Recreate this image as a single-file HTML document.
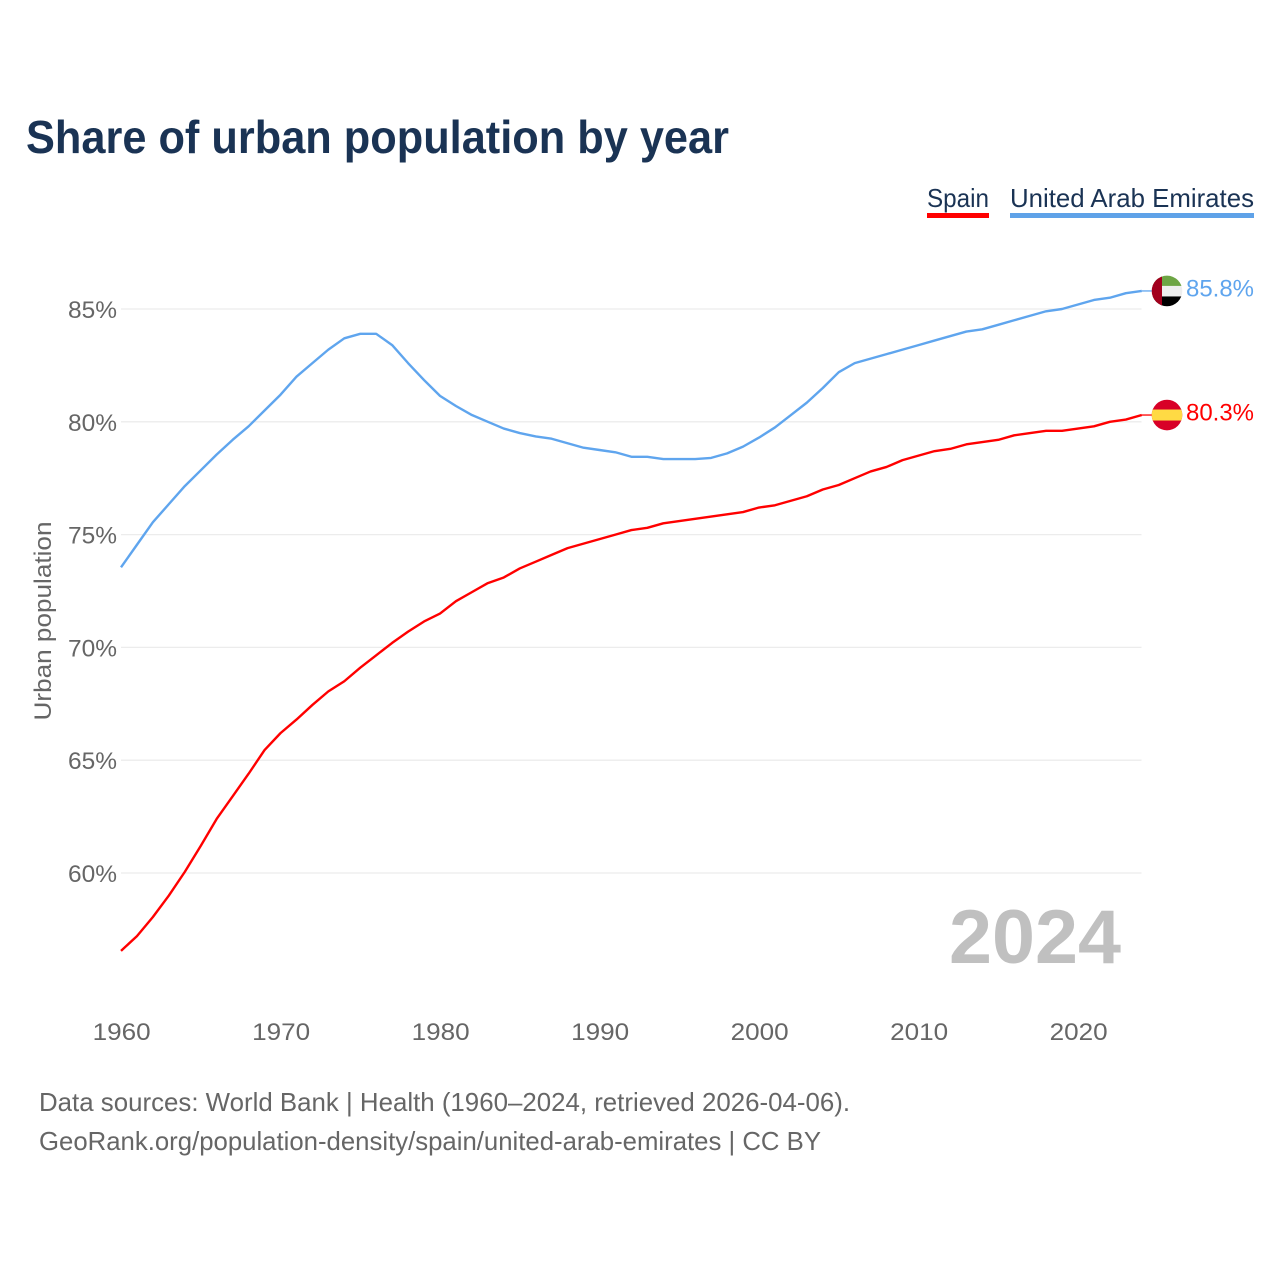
<!DOCTYPE html>
<html lang="en">
<head>
<meta charset="utf-8">
<title>Share of urban population by year</title>
<style>
html,body{margin:0;padding:0;background:#fff;width:1280px;height:1280px;overflow:hidden}
svg{display:block}
text{font-family:"Liberation Sans",sans-serif}
</style>
</head>
<body>
<svg id="chart" width="1280" height="1280" viewBox="0 0 1280 1280" xmlns="http://www.w3.org/2000/svg">
  <rect width="1280" height="1280" fill="#fff"/>
  <text x="26" y="153" font-size="46" font-weight="700" fill="#1a3354" textLength="703" lengthAdjust="spacingAndGlyphs">Share of urban population by year</text>

  <g>
    <text x="927" y="207" font-size="26" fill="#1a3354" textLength="62" lengthAdjust="spacingAndGlyphs">Spain</text>
    <rect x="927" y="213" width="62" height="5" fill="#ff0000"/>
  </g>
  <g>
    <text x="1010" y="207" font-size="26" fill="#1a3354" textLength="244" lengthAdjust="spacingAndGlyphs">United Arab Emirates</text>
    <rect x="1010" y="213" width="244" height="5" fill="#5fa2e8"/>
  </g>

  <text transform="translate(51,720.5) rotate(-90)" font-size="24" fill="#666" textLength="199" lengthAdjust="spacingAndGlyphs">Urban population</text>

  <g id="grid"></g>
  <g id="yticks"></g>
  <g id="xticks"></g>

  <text x="949" y="963" font-size="76" font-weight="700" fill="#c0c0c0" textLength="172" lengthAdjust="spacingAndGlyphs">2024</text>

  <g id="series"></g>

  <defs>
    <clipPath id="flag-clip"><circle cx="0" cy="0" r="15.3"/></clipPath>
  </defs>
  <g id="flag-uae" clip-path="url(#flag-clip)">
    <rect x="-16" y="-16" width="32" height="11" fill="#6da544"/>
    <rect x="-16" y="-5" width="32" height="10.5" fill="#eeeeee"/>
    <rect x="-16" y="5.5" width="32" height="11" fill="#000000"/>
    <rect x="-16" y="-16" width="11" height="32" fill="#a2001d"/>
  </g>
  <g id="flag-spain" clip-path="url(#flag-clip)">
    <rect x="-16" y="-16" width="32" height="32" fill="#d80027"/>
    <rect x="-16" y="-5.5" width="32" height="11" fill="#ffda44"/>
  </g>
  <g id="end-labels"></g>

  <text x="39" y="1111" font-size="26" fill="#666" textLength="811" lengthAdjust="spacingAndGlyphs">Data sources: World Bank | Health (1960–2024, retrieved 2026-04-06).</text>
  <text x="39" y="1150" font-size="26" fill="#666" textLength="782" lengthAdjust="spacingAndGlyphs">GeoRank.org/population-density/spain/united-arab-emirates | CC BY</text>
</svg>
<script>
const startYear = 1960;
const yTickValues = [60, 65, 70, 75, 80, 85];
const xTickValues = [1960, 1970, 1980, 1990, 2000, 2010, 2020];
const spainValues = [
  56.55, 57.2, 58.05, 59.0, 60.05, 61.2, 62.4, 63.4, 64.4, 65.45,
  66.2, 66.8, 67.45, 68.05, 68.5, 69.1, 69.65, 70.2, 70.7, 71.15,
  71.5, 72.05, 72.45, 72.85, 73.1, 73.5, 73.8, 74.1, 74.4, 74.6,
  74.8, 75.0, 75.2, 75.3, 75.5, 75.6, 75.7, 75.8, 75.9, 76.0,
  76.2, 76.3, 76.5, 76.7, 77.0, 77.2, 77.5, 77.8, 78.0, 78.3,
  78.5, 78.7, 78.8, 79.0, 79.1, 79.2, 79.4, 79.5, 79.6, 79.6,
  79.7, 79.8, 80.0, 80.1, 80.3
];
const uaeValues = [
  73.55, 74.55, 75.55, 76.35, 77.15, 77.85, 78.55, 79.2, 79.8, 80.5,
  81.2, 82.0, 82.6, 83.2, 83.7, 83.9, 83.9, 83.4, 82.6, 81.85,
  81.15, 80.7, 80.3, 80.0, 79.7, 79.5, 79.35, 79.25, 79.05, 78.85,
  78.75, 78.65, 78.45, 78.45, 78.35, 78.35, 78.35, 78.4, 78.6, 78.9,
  79.3, 79.75, 80.3, 80.85, 81.5, 82.2, 82.6, 82.8, 83.0, 83.2,
  83.4, 83.6, 83.8, 84.0, 84.1, 84.3, 84.5, 84.7, 84.9, 85.0,
  85.2, 85.4, 85.5, 85.7, 85.8
];

const NS = 'http://www.w3.org/2000/svg';
function xScale(year) { return 121 + (year - startYear) * 15.95; }
function yScale(v) { return 873 - (v - 60) * 22.56; }
function make(tag, attrs, parent) {
  const el = document.createElementNS(NS, tag);
  Object.keys(attrs).forEach(function (k) { el.setAttribute(k, attrs[k]); });
  parent.appendChild(el);
  return el;
}

const grid = document.getElementById('grid');
const yticks = document.getElementById('yticks');
const xticks = document.getElementById('xticks');
const seriesGroup = document.getElementById('series');
const endLabels = document.getElementById('end-labels');

yTickValues.forEach(function (v) {
  const line = make('line', { x1: 121, x2: 1141.5, y1: yScale(v), y2: yScale(v), stroke: '#ececec', 'stroke-width': 1.3 }, grid);
  
  
  const label = make('text', { x: 117, y: yScale(v) + 9, 'font-size': 24, fill: '#666', 'text-anchor': 'end', textLength: 49, lengthAdjust: 'spacingAndGlyphs' }, yticks);
  label.textContent = v + '%';
  
  
});

xTickValues.forEach(function (yr) {
  const label = make('text', { x: xScale(yr) + 0.6, y: 1040, 'font-size': 24, fill: '#666', 'text-anchor': 'middle', textLength: 58, lengthAdjust: 'spacingAndGlyphs' }, xticks);
  label.textContent = String(yr);
  
  
});

function drawSeries(values, color) {
  const pts = values.map(function (v, i) { return xScale(startYear + i).toFixed(2) + ',' + yScale(v).toFixed(2); });
  return make('polyline', { points: pts.join(' '), fill: 'none', stroke: color, 'stroke-width': 2.4, 'stroke-linejoin': 'round' }, seriesGroup);
}
function drawStub(values, color) {
  const lastY = yScale(values[values.length - 1]);
  return make('line', { x1: xScale(startYear + values.length - 1), x2: 1152, y1: lastY, y2: lastY, stroke: color, 'stroke-width': 1.3 }, seriesGroup);
}

const spainLine = drawSeries(spainValues, '#ff0000');


const uaeLine = drawSeries(uaeValues, '#5fa5ee');


const spainStub = drawStub(spainValues, '#ff0000');


const uaeStub = drawStub(uaeValues, '#5fa5ee');



function placeEnd(values, flagId, color) {
  const last = values[values.length - 1];
  const y = yScale(last);
  document.getElementById(flagId).setAttribute('transform', 'translate(1167,' + y.toFixed(2) + ')');
  const label = make('text', { x: 1186, y: y + 5.5, 'font-size': 24, fill: color, textLength: 68, lengthAdjust: 'spacingAndGlyphs' }, endLabels);
  label.textContent = last.toFixed(1) + '%';
  return label;
}
const spainEnd = placeEnd(spainValues, 'flag-spain', '#ff0000');


const uaeEnd = placeEnd(uaeValues, 'flag-uae', '#5fa5ee');


</script>
</body>
</html>
